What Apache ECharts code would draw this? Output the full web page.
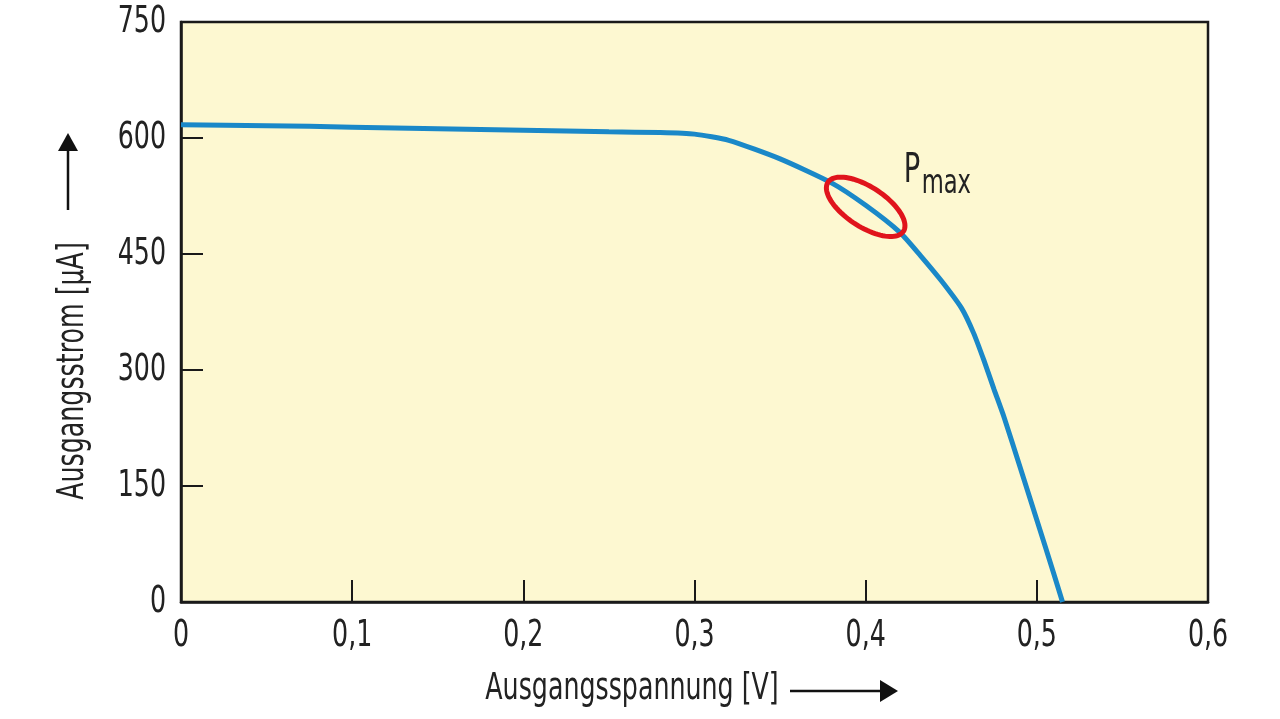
<!DOCTYPE html>
<html>
<head>
<meta charset="utf-8">
<script src="https://cdn.jsdelivr.net/npm/echarts@6/dist/echarts.min.js"></script>
<style>
html,body{margin:0;padding:0;background:#ffffff;}
#chart{width:1280px;height:719px;}
</style>
</head>
<body>
<div id="chart"></div>
<script>
// Data (voltage in V, current in µA)
const voltage = [0, 0.05, 0.1, 0.15, 0.2, 0.25, 0.28, 0.30, 0.32, 0.35, 0.38, 0.40, 0.42, 0.432, 0.444, 0.456, 0.463, 0.469, 0.475, 0.481, 0.49, 0.50, 0.51, 0.515];
const current = [617, 616, 614, 612, 610, 608, 607, 605, 597, 573, 542, 513, 478, 448, 416, 380, 348, 313, 275, 238, 176, 106, 36, 0];
const xTickValues = [0, 0.1, 0.2, 0.3, 0.4, 0.5, 0.6];
const xTickLabels = ['0', '0,1', '0,2', '0,3', '0,4', '0,5', '0,6'];
const yTickValues = [0, 150, 300, 450, 600, 750];
const yTickLabels = ['0', '150', '300', '450', '600', '750'];
const xTitle = 'Ausgangsspannung [V]';
const yTitle = 'Ausgangsstrom [µA]';
const pmaxPoint = [0.40, 511];
const pmaxLabelMain = 'P';
const pmaxLabelSub = 'max';

const FONT = '"DejaVu Sans Condensed", "Liberation Sans Narrow", "Roboto", sans-serif';
const SX = 0.74; // horizontal condensing to mimic the narrow typeface
const chart = echarts.init(document.getElementById('chart'));

const axisCommon = {
  axisLine: { show: true, lineStyle: { color: '#1a1a1a', width: 2.5 } },
  axisTick: { show: true, inside: true, length: 22, lineStyle: { color: '#1a1a1a', width: 2 } },
  splitLine: { show: false },
  axisLabel: { show: false }
};

chart.setOption({
  backgroundColor: '#ffffff',
  animation: false,
  grid: {
    left: 181, right: 72, top: 22, bottom: 117,
    show: true,
    backgroundColor: '#fdf8d1',
    borderColor: '#1a1a1a',
    borderWidth: 2.5
  },
  xAxis: Object.assign({ type: 'value', min: 0, max: 0.6, interval: 0.1 }, axisCommon),
  yAxis: Object.assign({ type: 'value', min: 0, max: 750, interval: 150 }, axisCommon),
  series: [{
    type: 'line',
    data: voltage.map((v, i) => [v, current[i]]),
    showSymbol: false,
    smooth: 0.2,
    lineStyle: { color: '#1a88c8', width: 5 },
    z: 3
  }]
});

const g = [];
// tick labels positioned through the axis scales
xTickValues.forEach((v, i) => {
  const p = chart.convertToPixel({ gridIndex: 0 }, [v, 0]);
  g.push({ type: 'text', x: p[0], y: p[1] + 34, scaleX: SX, silent: true,
    style: { text: xTickLabels[i], font: '38px ' + FONT, fill: '#222', textAlign: 'center', textVerticalAlign: 'middle' } });
});
yTickValues.forEach((v, i) => {
  const p = chart.convertToPixel({ gridIndex: 0 }, [0, v]);
  g.push({ type: 'text', x: p[0] - 15, y: p[1], scaleX: SX, silent: true,
    style: { text: yTickLabels[i], font: '38px ' + FONT, fill: '#222', textAlign: 'right', textVerticalAlign: 'middle' } });
});

// Pmax ellipse + label
const c = chart.convertToPixel({ gridIndex: 0 }, pmaxPoint);
const a = 45, b = 20, th = 33 * Math.PI / 180;
const pts = [];
for (let k = 0; k < 90; k++) {
  const t = k / 90 * 2 * Math.PI;
  const ex = a * Math.cos(t), ey = b * Math.sin(t);
  pts.push([c[0] + ex * Math.cos(th) - ey * Math.sin(th), c[1] + ex * Math.sin(th) + ey * Math.cos(th)]);
}
g.push({ type: 'polygon', shape: { points: pts }, style: { fill: null, stroke: '#e0141c', lineWidth: 5 }, z: 10 });
g.push({ type: 'text', x: c[0] + 38, y: c[1] - 35, scaleX: SX, z: 10,
  style: { text: pmaxLabelMain, font: '41px ' + FONT, fill: '#222', textAlign: 'left', textVerticalAlign: 'middle' } });
g.push({ type: 'text', x: c[0] + 56, y: c[1] - 23, scaleX: SX, z: 10,
  style: { text: pmaxLabelSub, font: '34px ' + FONT, fill: '#222', textAlign: 'left', textVerticalAlign: 'middle' } });

// axis titles with arrows
g.push({ type: 'text', x: 632, y: 689, scaleX: SX,
  style: { text: xTitle, font: '38px ' + FONT, fill: '#222', textAlign: 'center', textVerticalAlign: 'middle' } });
g.push({ type: 'line', shape: { x1: 790, y1: 691, x2: 884, y2: 691 }, style: { stroke: '#111', lineWidth: 2.5 } });
g.push({ type: 'polygon', shape: { points: [[880, 680], [898, 691], [880, 702]] }, style: { fill: '#111' } });

g.push({ type: 'text', x: 73, y: 371, rotation: Math.PI / 2, scaleX: SX,
  style: { text: yTitle, font: '38px ' + FONT, fill: '#222', textAlign: 'center', textVerticalAlign: 'middle' } });
g.push({ type: 'line', shape: { x1: 68, y1: 210, x2: 68, y2: 148 }, style: { stroke: '#111', lineWidth: 2.5 } });
g.push({ type: 'polygon', shape: { points: [[58, 151], [68, 133], [78, 151]] }, style: { fill: '#111' } });

chart.setOption({ graphic: g });
</script>
</body>
</html>
